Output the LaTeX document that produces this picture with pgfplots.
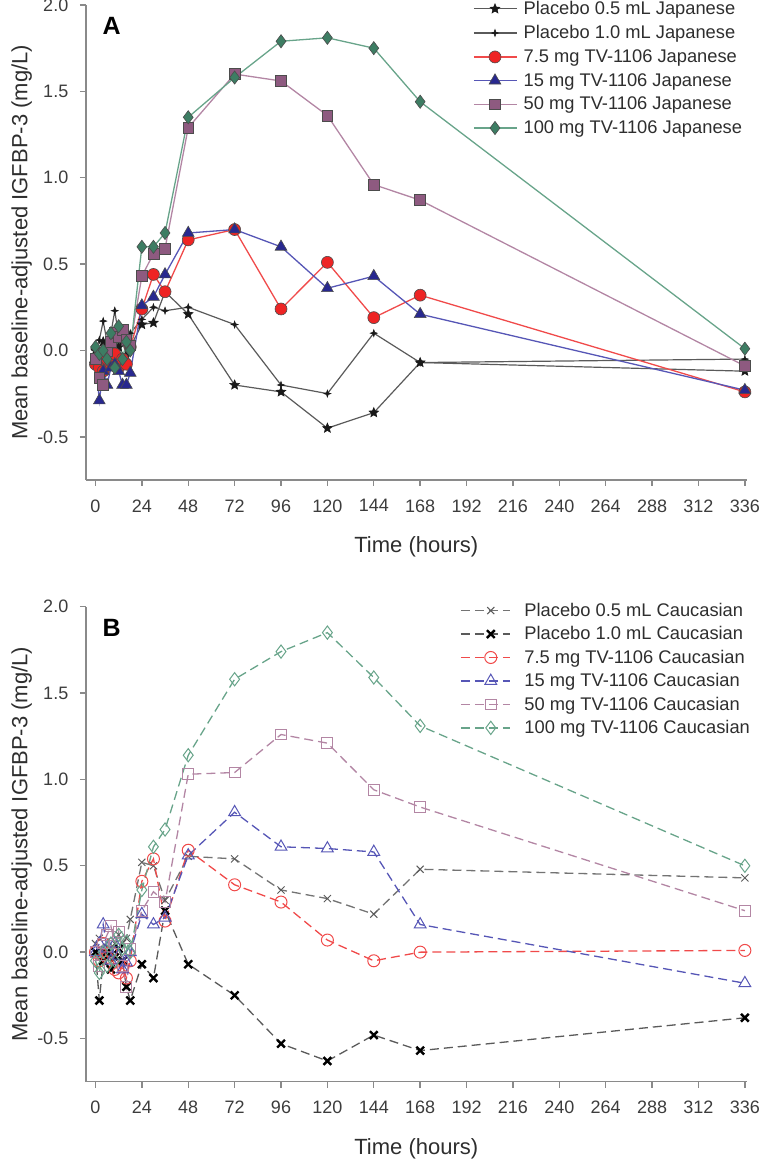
\documentclass[border=0pt]{standalone}
\usepackage{fontspec}
\setmainfont{Liberation Sans}
\usepackage{pgfplots}
\usepackage{pgfplotstable}
\pgfplotsset{compat=1.18}

\definecolor{axisgray}{HTML}{8A8A8A}
\definecolor{tickgray}{HTML}{3C3C3C}
\definecolor{labgray}{HTML}{2E2E2E}
\definecolor{redfill}{HTML}{EE2424}
\definecolor{redline}{HTML}{F04A4A}
\definecolor{blufill}{HTML}{28288F}
\definecolor{bluline}{HTML}{5656B6}
\definecolor{maufill}{HTML}{8E5A80}
\definecolor{mauline}{HTML}{B386A4}
\definecolor{grnfill}{HTML}{3D7D63}
\definecolor{grnline}{HTML}{68A48A}
\definecolor{plcline}{HTML}{5A5A5A}

\pgfdeclareplotmark{fstar}{%
  \pgfpathmoveto{\pgfpointpolar{90}{\pgfplotmarksize}}%
  \pgfpathlineto{\pgfpointpolar{126}{0.45\pgfplotmarksize}}%
  \pgfpathlineto{\pgfpointpolar{162}{\pgfplotmarksize}}%
  \pgfpathlineto{\pgfpointpolar{198}{0.45\pgfplotmarksize}}%
  \pgfpathlineto{\pgfpointpolar{234}{\pgfplotmarksize}}%
  \pgfpathlineto{\pgfpointpolar{270}{0.45\pgfplotmarksize}}%
  \pgfpathlineto{\pgfpointpolar{306}{\pgfplotmarksize}}%
  \pgfpathlineto{\pgfpointpolar{342}{0.45\pgfplotmarksize}}%
  \pgfpathlineto{\pgfpointpolar{18}{\pgfplotmarksize}}%
  \pgfpathlineto{\pgfpointpolar{54}{0.45\pgfplotmarksize}}%
  \pgfpathclose
  \pgfusepathqfillstroke}
\pgfdeclareplotmark{fstarfour}{%
  \pgfpathmoveto{\pgfpointpolar{90}{\pgfplotmarksize}}%
  \pgfpathlineto{\pgfpointpolar{135}{0.35\pgfplotmarksize}}%
  \pgfpathlineto{\pgfpointpolar{180}{\pgfplotmarksize}}%
  \pgfpathlineto{\pgfpointpolar{225}{0.35\pgfplotmarksize}}%
  \pgfpathlineto{\pgfpointpolar{270}{\pgfplotmarksize}}%
  \pgfpathlineto{\pgfpointpolar{315}{0.35\pgfplotmarksize}}%
  \pgfpathlineto{\pgfpointpolar{0}{\pgfplotmarksize}}%
  \pgfpathlineto{\pgfpointpolar{45}{0.35\pgfplotmarksize}}%
  \pgfpathclose
  \pgfusepathqfillstroke}

\pgfplotstableread{
t p05 p10 d75 d15 d50 d100
0 0.00 0.00 -0.08 -0.05 -0.05 0.02
2 -0.02 0.06 -0.10 -0.29 -0.16 -0.02
4 0.05 0.17 -0.12 -0.12 -0.20 0.00
6 0.00 0.05 -0.05 -0.20 0.00 -0.05
8 -0.05 0.10 -0.08 -0.10 0.05 0.10
10 0.08 0.23 -0.02 -0.08 0.10 -0.10
12 0.02 0.08 -0.10 -0.12 0.08 0.14
14 0.05 0.12 -0.05 -0.20 0.12 -0.05
16 -0.03 0.05 -0.08 -0.20 0.06 0.05
18 0.02 0.10 0.02 -0.13 0.03 0.00
24 0.15 0.18 0.24 0.26 0.43 0.60
30 0.16 0.25 0.44 0.31 0.56 0.60
36 0.34 0.23 0.34 0.44 0.59 0.68
48 0.21 0.25 0.64 0.68 1.29 1.35
72 -0.20 0.15 0.70 0.70 1.60 1.58
96 -0.24 -0.20 0.24 0.60 1.56 1.79
120 -0.45 -0.25 0.51 0.36 1.36 1.81
144 -0.36 0.10 0.19 0.43 0.96 1.75
168 -0.07 -0.07 0.32 0.21 0.87 1.44
336 -0.12 -0.05 -0.24 -0.23 -0.09 0.01
}\tabA

\pgfplotstableread{
t p05 p10 d75 d15 d50 d100
0 0.05 0.00 0.00 0.00 0.00 -0.05
2 0.08 -0.28 -0.05 0.05 -0.08 -0.12
4 0.00 -0.05 0.05 0.16 0.05 0.00
6 0.03 0.00 -0.03 0.02 0.10 -0.08
8 -0.02 -0.10 0.00 -0.05 0.15 0.05
10 0.05 -0.03 -0.10 0.05 0.05 -0.05
12 0.10 0.02 -0.12 -0.02 0.12 0.10
14 0.05 -0.05 -0.08 -0.10 -0.08 0.02
16 0.08 -0.20 -0.15 -0.06 -0.20 0.06
18 0.19 -0.28 -0.05 0.00 0.02 0.00
24 0.52 -0.07 0.41 0.22 0.24 0.36
30 0.50 -0.15 0.54 0.16 0.35 0.61
36 0.30 0.24 0.18 0.20 0.29 0.71
48 0.555 -0.07 0.59 0.56 1.03 1.14
72 0.54 -0.25 0.39 0.81 1.04 1.58
96 0.36 -0.53 0.29 0.61 1.26 1.74
120 0.31 -0.63 0.07 0.60 1.21 1.85
144 0.22 -0.48 -0.05 0.58 0.94 1.59
168 0.48 -0.57 0.00 0.16 0.84 1.31
336 0.43 -0.38 0.01 -0.18 0.24 0.50
}\tabB

\pgfplotsset{
  panel/.style={
    scale only axis, width=661pt, height=475pt,
    xmin=-5, xmax=337, ymin=-0.75, ymax=2.0,
    axis x line=bottom, axis y line=left,
    axis line style={-, draw=axisgray, line width=1.6pt},
    xtick={0,24,...,336}, ytick={-0.5,0,0.5,1,1.5,2},
    tick align=outside, major tick length=6pt,
    tick style={draw=axisgray, line width=1.4pt},
    /pgf/number format/assume math mode=true,
    ticklabel style={font=\fontsize{18}{20}\selectfont, text=tickgray},
    xticklabel style={yshift=-10pt},
    yticklabel style={/pgf/number format/fixed, /pgf/number format/fixed zerofill, /pgf/number format/precision=1, xshift=-8pt},
    xlabel={Time (hours)},
    ylabel={Mean baseline-adjusted IGFBP-3 (mg/L)},
    label style={font=\fontsize{22}{24}\selectfont, text=labgray},
    xlabel style={at={(axis description cs:0.5,0)}, anchor=center, yshift=-67pt},
    ylabel style={at={(axis description cs:0,0.5)}, anchor=center, yshift=64pt},
    clip=false,
    legend cell align=left,
  },
}

\begin{document}
\begin{tikzpicture}
\path[use as bounding box] (0pt,0pt) rectangle (760pt,1160pt);

% ---------------- Panel A ----------------
\begin{axis}[panel, at={(85.8pt,680pt)}, anchor=south west,
  legend style={at={(rel axis cs:0.586,1.012)}, anchor=north west, draw=none, fill=none,
    inner sep=0pt, font=\fontsize{18.3}{20}\selectfont, text=labgray, row sep=5.4pt,
    /tikz/every odd column/.append style={column sep=4pt}},
  legend image code/.code={\draw[mark repeat=2,mark phase=2] plot coordinates {(0pt,0pt) (21pt,0pt) (43pt,0pt)};},
]
\addplot[plcline, line width=1.2pt, mark=fstar, mark size=5pt, mark options={fill=black!90, draw=black!90, line width=0.6pt}] table[x=t,y=p05] {\tabA};
\addlegendentry{Placebo 0.5 mL Japanese}
\addplot[plcline, line width=1.2pt, mark=fstarfour, mark size=3.6pt, mark options={fill=black!90, draw=black!90, line width=0.5pt}] table[x=t,y=p10] {\tabA};
\addlegendentry{Placebo 1.0 mL Japanese}
\addplot[redline, line width=1.3pt, mark=*, mark size=6pt, mark options={fill=redfill, draw=black!70, line width=0.6pt}] table[x=t,y=d75] {\tabA};
\addlegendentry{7.5 mg TV-1106 Japanese}
\addplot[bluline, line width=1.3pt, mark=triangle*, mark size=6.8pt, mark options={fill=blufill, draw=black!70, line width=0.6pt}] table[x=t,y=d15] {\tabA};
\addlegendentry{15 mg TV-1106 Japanese}
\addplot[mauline, line width=1.3pt, mark=square*, mark size=5.4pt, mark options={fill=maufill, draw=black!70, line width=0.6pt}] table[x=t,y=d50] {\tabA};
\addlegendentry{50 mg TV-1106 Japanese}
\addplot[grnline, line width=1.3pt, mark=diamond*, mark size=6.6pt, mark options={fill=grnfill, draw=black!70, line width=0.6pt}] table[x=t,y=d100] {\tabA};
\addlegendentry{100 mg TV-1106 Japanese}
\node[font=\bfseries\fontsize{25}{25}\selectfont, text=black] at (rel axis cs:0.039,0.956) {A};
\end{axis}

% ---------------- Panel B ----------------
\begin{axis}[panel, at={(85.8pt,78.3pt)}, anchor=south west,
  legend style={at={(rel axis cs:0.566,1.012)}, anchor=north west, draw=none, fill=none,
    inner sep=0pt, font=\fontsize{18.3}{20}\selectfont, text=labgray, row sep=4.7pt,
    /tikz/every odd column/.append style={column sep=12pt}},
  legend image code/.code={\draw[mark repeat=2,mark phase=2] plot coordinates {(0pt,0pt) (30pt,0pt) (49pt,0pt)};},
  every axis plot/.append style={dash pattern=on 9pt off 5pt, line width=1.3pt},
]
\addplot[plcline!85, mark=x, mark size=5pt, mark options={solid, draw=plcline, line width=1pt}] table[x=t,y=p05] {\tabB};
\addlegendentry{Placebo 0.5 mL Caucasian}
\addplot[plcline, mark=x, mark size=5.5pt, mark options={solid, draw=black, line width=2.4pt}] table[x=t,y=p10] {\tabB};
\addlegendentry{Placebo 1.0 mL Caucasian}
\addplot[redline, mark=o, mark size=6pt, mark options={solid, draw=redline, line width=1pt}] table[x=t,y=d75] {\tabB};
\addlegendentry{7.5 mg TV-1106 Caucasian}
\addplot[bluline, mark=triangle, mark size=6.8pt, mark options={solid, draw=bluline, line width=1pt}] table[x=t,y=d15] {\tabB};
\addlegendentry{15 mg TV-1106 Caucasian}
\addplot[mauline, mark=square, mark size=5.4pt, mark options={solid, draw=mauline, line width=1pt}] table[x=t,y=d50] {\tabB};
\addlegendentry{50 mg TV-1106 Caucasian}
\addplot[grnline, mark=diamond, mark size=6.6pt, mark options={solid, draw=grnline, line width=1pt}] table[x=t,y=d100] {\tabB};
\addlegendentry{100 mg TV-1106 Caucasian}
\node[font=\bfseries\fontsize{25}{25}\selectfont, text=black] at (rel axis cs:0.039,0.956) {B};
\end{axis}
\end{tikzpicture}
\end{document}
